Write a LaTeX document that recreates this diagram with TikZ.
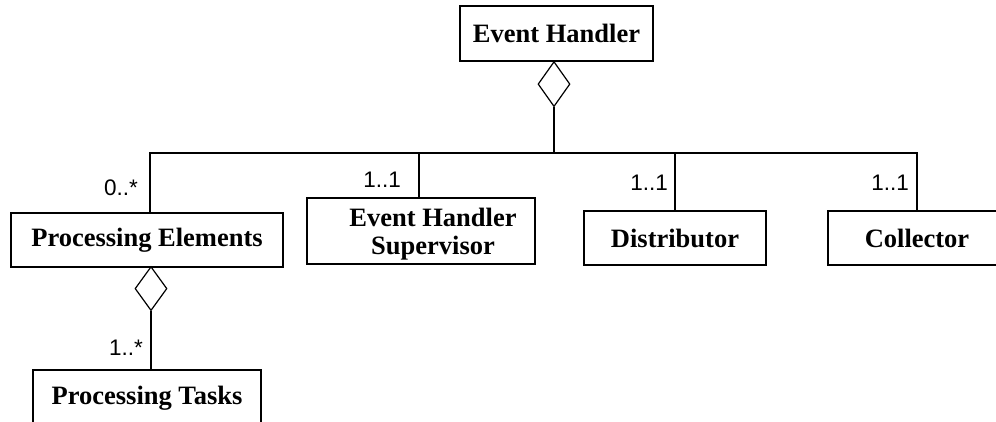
\documentclass[tikz,border=0pt]{standalone}
\usepackage{fontspec}
\setmainfont{Liberation Serif}
\newfontfamily\arialf{Liberation Sans}
\usetikzlibrary{shapes.geometric}
\begin{document}
\begin{tikzpicture}[x=1pt,y=-1pt,
  clsfont/.style={font=\fontsize{26.5}{28}\selectfont\bfseries},
  cls/.style={draw, line width=1.2pt, rectangle, inner sep=0pt, align=center, clsfont},
  agg/.style={draw, line width=1.2pt, diamond, inner sep=0pt, fill=white,
              minimum width=32pt, minimum height=45pt},
  mult/.style={font=\arialf\fontsize{22.5}{25}\selectfont, inner sep=0pt, anchor=base east},
  conn/.style={line width=1.2pt}]
\useasboundingbox (0,0) rectangle (996,421);
\clip (0,0) rectangle (996,421);

% classes
\node[cls, minimum width=193pt, minimum height=55pt] (eh) at (556.5,33.5) {Event Handler};
\node[cls, minimum width=272pt, minimum height=54pt] (pe) at (147,240) {Processing Elements};
\node[cls, minimum width=228pt, minimum height=66pt] (ehs) at (421,231) {};
\node[clsfont, align=center, inner sep=0pt] (ehstext) at (433,234) {Event Handler\\Supervisor};
\node[cls, minimum width=182pt, minimum height=54pt] (dist) at (675,238) {Distributor};
\node[cls, minimum width=178pt, minimum height=54pt] (coll) at (917,238) {Collector};
\node[cls, minimum width=228pt, minimum height=56pt] (pt) at (147,398) {Processing Tasks};

% aggregation diamonds
\node[agg, anchor=north] (ehd) at (554,61) {};
\node[agg, anchor=north, minimum height=44pt] (ped) at (151,266) {};

% bus and drops
\coordinate (jl) at (150,153);
\coordinate (jr) at (917,153);
\coordinate (t2) at (419,153);
\coordinate (t3) at (675,153);

\draw[conn] (ehd.south) -- (ehd.south |- jl);
\draw[conn] (jl |- pe.north) -- (jl) -- (jr) -- (jr |- coll.north);
\draw[conn] (t2) -- (t2 |- ehs.north);
\draw[conn] (t3) -- (t3 |- dist.north);
\draw[conn] (ped.south) -- (ped.south |- pt.north);

% multiplicities
\node[mult] (m1) at (138,195) {0..*};
\node[mult] (m2) at (401,187) {1..1};
\node[mult] (m3) at (668,190) {1..1};
\node[mult] (m4) at (909,190) {1..1};
\node[mult] (m5) at (143,355) {1..*};
\end{tikzpicture}
\end{document}
